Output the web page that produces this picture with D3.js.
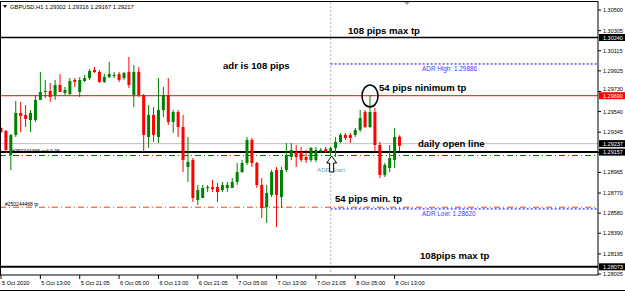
<!DOCTYPE html>
<html lang="en">
<head>
<meta charset="UTF-8">
<title>GBPUSD H1</title>
<script src="https://d3js.org/d3.v7.min.js"></script>
<style>
  body { margin: 0; background: #fff; }
  svg { display: block; font-family: "Liberation Sans", Arial, sans-serif; }
</style>
</head>
<body>
<div id="chart"></div>
<script>
// candle data (H1 bars, 5 Oct 05:00 .. 8 Oct 14:00)
const opens = [1.29385,1.29357,1.29130,1.29319,1.29527,1.29508,1.29460,1.29460,1.29650,1.29725,
  1.29735,1.29697,1.29791,1.29716,1.29706,1.29839,1.29725,1.29829,1.29857,1.29933,
  1.29914,1.29820,1.29867,1.29876,1.29895,1.29857,1.29914,1.29697,1.29914,1.29697,
  1.29300,1.29508,1.29300,1.29555,1.29697,1.29442,1.29536,1.29394,1.29016,1.29083,
  1.28705,1.28723,1.28818,1.28827,1.28827,1.28799,1.28818,1.28818,1.28875,1.28969,
  1.29054,1.29271,1.29054,1.28846,1.28638,1.28752,1.28988,1.28733,1.28988,1.29111,
  1.29158,1.29158,1.29111,1.29083,1.29083,1.29168,1.29186,1.29149,1.29196,1.29253,
  1.29319,1.29319,1.29319,1.29366,1.29536,1.29394,1.29536,1.29224,1.28941,1.29007,
  1.29083,1.29302];
const highs = [1.29394,1.29366,1.29328,1.29640,1.29631,1.29602,1.29555,1.29697,1.29914,1.29839,
  1.29810,1.29839,1.29895,1.29772,1.29857,1.29857,1.29867,1.29886,1.29942,1.29961,
  1.29933,1.29895,1.30009,1.29914,1.29914,1.29914,1.30056,1.29980,1.29961,1.29706,
  1.29602,1.29583,1.29857,1.29772,1.29857,1.29555,1.29555,1.29508,1.29300,1.29101,
  1.28846,1.28846,1.28846,1.28894,1.28865,1.28875,1.28875,1.28912,1.29054,1.29083,
  1.29300,1.29290,1.29064,1.28912,1.28846,1.28988,1.29016,1.29016,1.29243,1.29243,
  1.29224,1.29205,1.29177,1.29205,1.29205,1.29196,1.29205,1.29205,1.29300,1.29338,
  1.29338,1.29338,1.29385,1.29555,1.29555,1.29697,1.29574,1.29253,1.29054,1.29224,
  1.29385,1.29316];
const lows = [1.29338,1.29149,1.28988,1.29300,1.29347,1.29394,1.29347,1.29442,1.29650,1.29668,
  1.29631,1.29650,1.29725,1.29697,1.29697,1.29772,1.29678,1.29820,1.29839,1.29905,
  1.29810,1.29810,1.29857,1.29857,1.29820,1.29839,1.29763,1.29583,1.29678,1.29158,
  1.29196,1.29253,1.29243,1.29489,1.29413,1.29338,1.29300,1.28969,1.28875,1.28686,
  1.28657,1.28723,1.28780,1.28780,1.28686,1.28780,1.28780,1.28818,1.28846,1.28960,
  1.29035,1.29016,1.28818,1.28534,1.28487,1.28733,1.28449,1.28629,1.28969,1.29083,
  1.29016,1.29064,1.29054,1.29064,1.29064,1.29149,1.29149,1.29130,1.29111,1.29243,
  1.29271,1.29243,1.29300,1.29347,1.29385,1.29385,1.29158,1.28912,1.28922,1.28969,
  1.29007,1.29167];
const closes = [1.29347,1.29177,1.29319,1.29527,1.29498,1.29470,1.29527,1.29650,1.29725,1.29735,
  1.29678,1.29791,1.29725,1.29744,1.29829,1.29820,1.29839,1.29857,1.29924,1.29914,
  1.29820,1.29867,1.29895,1.29886,1.29839,1.29905,1.29791,1.29914,1.29697,1.29319,
  1.29508,1.29319,1.29555,1.29697,1.29442,1.29536,1.29394,1.29083,1.29064,1.28723,
  1.28799,1.28818,1.28827,1.28808,1.28780,1.28846,1.28846,1.28875,1.28969,1.29054,
  1.29271,1.29054,1.28846,1.28629,1.28771,1.28969,1.28752,1.28988,1.29130,1.29177,
  1.29111,1.29083,1.29083,1.29196,1.29177,1.29177,1.29158,1.29196,1.29253,1.29319,
  1.29290,1.29290,1.29366,1.29479,1.29394,1.29536,1.29224,1.28941,1.29035,1.29101,
  1.29300,1.29217];

// time axis labels, one every 8 bars
const timeLabels = ["5 Oct 2020","5 Oct 13:00","5 Oct 21:05","6 Oct 05:00","6 Oct 13:00",
  "6 Oct 21:05","7 Oct 05:00","7 Oct 13:00","7 Oct 21:05","8 Oct 05:00","8 Oct 13:00"];
const priceTicks = [1.30500,1.30305,1.30115,1.29925,1.29730,1.29540,1.29345,1.29155,
  1.28965,1.28770,1.28580,1.28390,1.28195,1.28005];

// levels drawn on the chart
const maxTpHigh = 1.30240, adrHigh = 1.29990, minTpHigh = 1.29690, bid = 1.29237,
      dailyOpen = 1.29157, sellOpen = 1.29125, sellTp = 1.28636, adrLow = 1.28620, maxTpLow = 1.28073;
const adrStartBar = 67, circleBar = 75;

const W = 625, H = 292;
const plotRight = 598, plotTop = 2, plotBottom = 275;

const svg = d3.select("#chart").append("svg")
  .attr("width", W).attr("height", H);
svg.append("rect").attr("width", W).attr("height", H).attr("fill", "#fff");

const x = d3.scaleLinear().domain([0, 81]).range([1, 1 + 81 * 4.92]);
const y = d3.scaleLinear().domain([1.28005, 1.30500]).range([274, 10]);

svg.append("clipPath").attr("id", "plot")
  .append("rect").attr("x", 0).attr("y", plotTop).attr("width", plotRight).attr("height", plotBottom - plotTop);

const plot = svg.append("g").attr("clip-path", "url(#plot)");

// day separator
plot.append("line")
  .attr("x1", x(adrStartBar)).attr("x2", x(adrStartBar))
  .attr("y1", plotTop).attr("y2", plotBottom)
  .attr("stroke", "#c0c0c0").attr("stroke-width", 1.2).attr("stroke-dasharray", "2,2");

// horizontal levels
function hline(p, color, w, dash, x1) {
  plot.append("line")
    .attr("x1", x1 == null ? 0 : x1).attr("x2", plotRight)
    .attr("y1", y(p)).attr("y2", y(p))
    .attr("stroke", color).attr("stroke-width", w)
    .attr("stroke-dasharray", dash || null);
}
hline(maxTpHigh, "#000", 1.5);
hline(minTpHigh, "#ff0000", 1);
hline(bid, "#c0c0c0", 1);
hline(dailyOpen, "#000", 2);
hline(sellOpen, "#008000", 1, "6,3,1,3");
hline(sellTp, "#ff4500", 1, "6,3,1,3");
hline(adrHigh, "#0000ff", 1, "2,2", x(adrStartBar));
hline(adrLow, "#0000ff", 1, "2,2", x(adrStartBar));
hline(maxTpLow, "#000", 2);

// candles
const bars = d3.range(opens.length).map(i => ({
  i, o: opens[i], h: highs[i], l: lows[i], c: closes[i]
}));
const col = d => d.c >= d.o ? "#008000" : "#ff0000";
const candles = plot.append("g").selectAll("g").data(bars).join("g");
candles.append("line")
  .attr("x1", d => x(d.i)).attr("x2", d => x(d.i))
  .attr("y1", d => y(d.h)).attr("y2", d => y(d.l))
  .attr("stroke", col).attr("stroke-width", 1);
candles.append("rect")
  .attr("x", d => x(d.i) - 1.5).attr("width", 3)
  .attr("y", d => y(Math.max(d.o, d.c)))
  .attr("height", d => Math.max(1, Math.abs(y(d.o) - y(d.c))))
  .attr("fill", col);

// circle around the high
plot.append("ellipse")
  .attr("cx", x(circleBar)).attr("cy", y(highs[circleBar]) + 1)
  .attr("rx", 8).attr("ry", 11)
  .attr("fill", "none").attr("stroke", "#000").attr("stroke-width", 1.5);

// annotation text
const big = [
  ["108 pips max tp", 348, 33.6],
  ["adr is 108 pips", 223, 68.5],
  ["54 pips ninimum tp", 379, 91],
  ["daily open line", 418, 147],
  ["54 pips min. tp", 335, 202],
  ["108pips max tp", 420, 258.7]
];
plot.selectAll("text.big").data(big).join("text")
  .attr("x", d => d[1]).attr("y", d => d[2])
  .attr("font-size", 9.6).attr("font-weight", "bold").attr("fill", "#000")
  .text(d => d[0]);

const small = [
  ["#250244468 sell 0.06", 12, 153, "#000", 5],
  ["#250244468 tp", 5, 205.5, "#000", 5],
  ["ADR High: 1.29886", 422, 70.5, "#3b3bff", 6.4],
  ["ADR Low: 1.28620", 422, 215.5, "#3b3bff", 6.4],
  ["ADR Start", 317, 171.5, "#6aa6c8", 6.2]
];
plot.selectAll("text.small").data(small).join("text")
  .attr("x", d => d[1]).attr("y", d => d[2])
  .attr("font-size", d => d[4]).attr("fill", d => d[3])
  .text(d => d[0]);

// ADR start arrow (drawn over its label, as in the terminal)
const ax = x(adrStartBar) + 1, ay = y(sellOpen) + 0.5;
plot.append("path")
  .attr("d", `M${ax},${ay} L${ax + 5},${ay + 7} L${ax + 2},${ay + 7} L${ax + 2},${ay + 16} L${ax - 2},${ay + 16} L${ax - 2},${ay + 7} L${ax - 5},${ay + 7} Z`)
  .attr("fill", "#fff").attr("stroke", "#000").attr("stroke-width", 1);

// header
plot.append("path").attr("d", "M3,5 L7,5 L5,8 Z").attr("fill", "#000");
plot.append("text").attr("x", 10).attr("y", 9).attr("font-size", 5.8)
  .text("GBPUSD,H1  1.29302 1.29316 1.29167 1.29217");
plot.append("path").attr("d", "M404,2 L410,2 L407,5 Z").attr("fill", "#a0a0a0");

// frame
svg.append("rect")
  .attr("x", 0.5).attr("y", plotTop - 0.5).attr("width", plotRight - 0.5).attr("height", plotBottom - plotTop + 0.5)
  .attr("fill", "none").attr("stroke", "#000").attr("stroke-width", 1);

// price boxes on the axis
const boxes = [[maxTpHigh, "#000"], [minTpHigh, "#ff0000"], [bid, "#000"], [dailyOpen, "#000"], [maxTpLow, "#000"]];

// price axis: labels hidden under a box are dropped, near ones pushed clear
const pa = svg.append("g");
pa.selectAll("line").data(priceTicks).join("line")
  .attr("x1", plotRight).attr("x2", plotRight + 3)
  .attr("y1", d => y(d)).attr("y2", d => y(d)).attr("stroke", "#000");
const tickLabels = priceTicks.map(p => {
  let ly = y(p) + 2, show = true;
  boxes.forEach(b => {
    const dy = y(p) - y(b[0]);
    if (Math.abs(dy) < 3.5) show = false;
    else if (dy < 0 && dy > -6.5) ly = y(b[0]) - 4.6;
  });
  return { p, ly, show };
}).filter(d => d.show);
pa.selectAll("text").data(tickLabels).join("text")
  .attr("x", 603).attr("y", d => d.ly)
  .attr("font-size", 5.5).attr("fill", "#000")
  .text(d => d.p.toFixed(5));

const bx = svg.append("g").selectAll("g").data(boxes).join("g");
bx.append("rect")
  .attr("x", plotRight + 1).attr("width", W - plotRight - 1)
  .attr("y", d => y(d[0]) - 3.5).attr("height", 7)
  .attr("fill", d => d[1]);
bx.append("text")
  .attr("x", 603).attr("y", d => y(d[0]) + 2)
  .attr("font-size", 5.5).attr("fill", "#fff")
  .text(d => d[0].toFixed(5));

// time axis
const ta = svg.append("g");
const tickBars = timeLabels.map((t, k) => k * 8);
ta.selectAll("line").data(tickBars).join("line")
  .attr("x1", d => x(d)).attr("x2", d => x(d))
  .attr("y1", plotBottom).attr("y2", plotBottom + 4).attr("stroke", "#000");
ta.selectAll("text").data(timeLabels).join("text")
  .attr("x", (d, k) => x(k * 8) + 1).attr("y", 285)
  .attr("font-size", 5.6).attr("fill", "#000")
  .text(d => d);

svg.append("line").attr("x1", 0).attr("x2", W).attr("y1", 290.5).attr("y2", 290.5)
  .attr("stroke", "#000").attr("stroke-width", 1);
</script>
</body>
</html>
